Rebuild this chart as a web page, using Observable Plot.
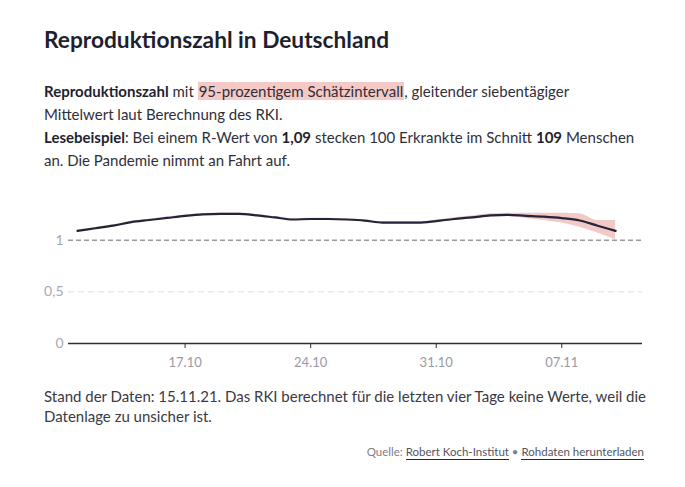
<!DOCTYPE html>
<html>
<head>
<meta charset="utf-8">
<script src="https://cdn.jsdelivr.net/npm/d3@7"></script>
<script src="https://cdn.jsdelivr.net/npm/@observablehq/plot@0.6"></script>
<style>
  html, body { margin: 0; padding: 0; background: #fff; }
  body { font-family: Lato, "Noto Sans", sans-serif; color: #2a2a36; width: 685px; height: 487px; position: relative; overflow: hidden; }
  .abs { position: absolute; left: 44px; width: 600px; }
  #title { top: 26px; font-size: 22.7px; font-weight: 700; line-height: 28px; color: #1f1f2e; }
  #sub { top: 80px; width: 592px; font-size: 15px; line-height: 23px; color: #2f2f3a; }
  #sub b { font-weight: 700; color: #1f1f2e; }
  .hl { background: #f4c9c6; padding: 0 1px; }
  #chart { top: 180px; }
  #note { top: 386px; width: 620px; font-size: 15px; line-height: 20px; color: #3a3a44; }
  #src { top: 444px; text-align: right; font-size: 11.5px; color: #808088; line-height: 16px; }
  #src span.l { color: #55555e; border-bottom: 1px solid #2a2a36; padding-bottom: 1px; }
</style>
</head>
<body>
<div id="title" class="abs">Reproduktionszahl in Deutschland</div>
<div id="sub" class="abs"><b>Reproduktionszahl</b> mit <span class="hl">95-prozentigem Schätzintervall</span>, gleitender siebentägiger Mittelwert laut Berechnung des RKI.<br><b>Lesebeispiel</b>: Bei einem R-Wert von <b>1,09</b> stecken 100 Erkrankte im Schnitt <b>109</b> Menschen an. Die Pandemie nimmt an Fahrt auf.</div>
<div id="chart" class="abs"></div>
<div id="note" class="abs">Stand der Daten: 15.11.21. Das RKI berechnet für die letzten vier Tage keine Werte, weil die Datenlage zu unsicher ist.</div>
<div id="src" class="abs">Quelle: <span class="l">Robert Koch-Institut</span> • <span class="l">Rohdaten herunterladen</span></div>
<script>
const dates = [
  "2021-10-11","2021-10-12","2021-10-13","2021-10-14","2021-10-15","2021-10-16","2021-10-17",
  "2021-10-18","2021-10-19","2021-10-20","2021-10-21","2021-10-22","2021-10-23","2021-10-24",
  "2021-10-25","2021-10-26","2021-10-27","2021-10-28","2021-10-29","2021-10-30","2021-10-31",
  "2021-11-01","2021-11-02","2021-11-03","2021-11-04","2021-11-05","2021-11-06","2021-11-07",
  "2021-11-08","2021-11-09","2021-11-10"
];
const rValue = [1.09,1.115,1.14,1.175,1.195,1.215,1.235,1.25,1.255,1.255,1.24,1.22,1.20,1.205,1.205,1.20,1.19,1.17,1.17,1.17,1.185,1.205,1.22,1.24,1.245,1.236,1.227,1.213,1.19,1.14,1.09];
const rLower = [1.082,1.107,1.132,1.167,1.187,1.207,1.227,1.242,1.247,1.247,1.232,1.212,1.192,1.197,1.197,1.192,1.182,1.162,1.162,1.162,1.175,1.192,1.205,1.222,1.23,1.21,1.19,1.165,1.125,1.07,1.005];
const rUpper = [1.098,1.123,1.148,1.183,1.203,1.223,1.243,1.258,1.263,1.263,1.248,1.228,1.208,1.213,1.213,1.208,1.198,1.178,1.178,1.178,1.195,1.218,1.235,1.255,1.26,1.26,1.26,1.26,1.255,1.19,1.19];
const xTicks = ["2021-10-17","2021-10-24","2021-10-31","2021-11-07"];
const yTicks = [0, 0.5, 1];
const xDomain = ["2021-10-10T12:00","2021-11-11T12:00"];

const parse = s => new Date(s.length > 10 ? s : s + "T00:00");
const data = dates.map((d, i) => ({date: parse(d), r: rValue[i], lo: rLower[i], hi: rUpper[i]}));
const yFmt = v => String(v).replace(".", ",");

const chart = Plot.plot({
  width: 600,
  height: 193,
  marginLeft: 24,
  marginRight: 2,
  marginTop: 8,
  marginBottom: 30,
  style: {fontFamily: "Lato, 'Noto Sans', sans-serif", background: "transparent", overflow: "visible"},
  x: {type: "time", domain: xDomain.map(parse)},
  y: {domain: [0, 1.5]},
  marks: [
    Plot.ruleY([0.5], {stroke: "#dedede", strokeWidth: 1, strokeDasharray: "6,4"}),
    Plot.areaY(data, {x: "date", y1: "lo", y2: "hi", fill: "#f2c3c0", fillOpacity: 0.9, curve: "monotone-x"}),
    Plot.ruleY([1], {stroke: "#9a9a9a", strokeWidth: 1.5, strokeDasharray: "5,3"}),
    Plot.lineY(data, {x: "date", y: "r", stroke: "#25233a", strokeWidth: 2.2, curve: "monotone-x"}),
    Plot.ruleY([0], {stroke: "#2e2e38", strokeWidth: 1.5}),
    Plot.axisX({ticks: xTicks.map(parse), tickFormat: d3.timeFormat("%d.%m"), tickSize: 5, tickPadding: 9, stroke: "#2e2e38", color: "#9a9aa4", fontSize: 13, label: null}),
    Plot.axisY({ticks: yTicks, tickFormat: yFmt, tickSize: 0, tickPadding: 5, color: "#a8a8b0", fontSize: 14, label: null})
  ]
});
document.getElementById("chart").appendChild(chart);
</script>
</body>
</html>
